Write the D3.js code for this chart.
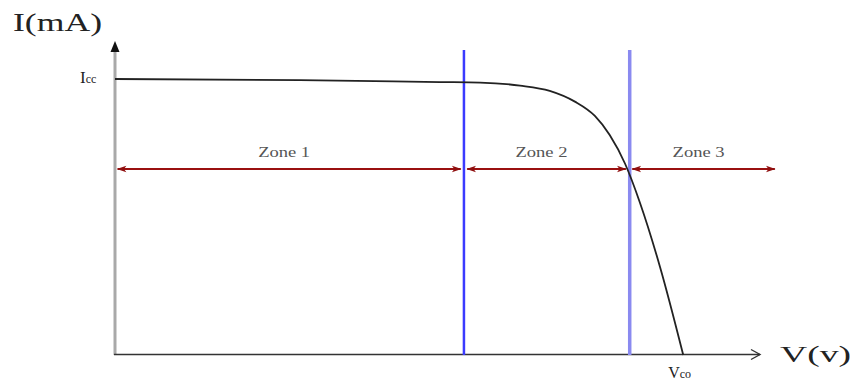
<!DOCTYPE html>
<html>
<head>
<meta charset="utf-8">
<script src="https://cdn.jsdelivr.net/npm/d3@7"></script>
<style>
  html, body { margin: 0; padding: 0; background: #fff; }
  svg { display: block; }
</style>
</head>
<body>
<svg id="chart" width="853" height="381"></svg>
<script>
// I–V characteristic of a photovoltaic cell (arbitrary units, Icc = 100)
const voltage = [0, 28.7, 50.4, 56.6, 62.8, 67.4, 71.3, 74.4, 76.7, 79.1, 81.4, 84.5, 88.1];
const current = [100, 99.6, 98.9, 98.7, 97.6, 95.7, 91.8, 86.6, 79.7, 69.2, 55.1, 31.9, 0];

// Operating zones: boundaries along V and the level of the zone arrows
const zoneNames = ["Zone 1", "Zone 2", "Zone 3"];
const zoneBounds = [0, 54.1, 79.8, 102.3];
const zoneLevel = 67.4;
const dividers = [54.1, 79.8];

const svg = d3.select("#chart");
const x = d3.scaleLinear().domain([0, 100]).range([115, 760]);
const y = d3.scaleLinear().domain([0, 100]).range([355, 79]);

const defs = svg.append("defs");
// red arrowhead used at both ends of each zone arrow
defs.append("marker")
  .attr("id", "redHead")
  .attr("viewBox", "0 -5 12 10")
  .attr("refX", 11).attr("refY", 0)
  .attr("markerWidth", 12).attr("markerHeight", 8)
  .attr("markerUnits", "userSpaceOnUse")
  .attr("orient", "auto-start-reverse")
  .append("path")
  .attr("d", "M0,-4 L12,0 L0,4 L3,0 Z")
  .attr("fill", "#8f0f0f");

// Y axis (grey bar with filled arrow)
svg.append("line")
  .attr("x1", x(0)).attr("x2", x(0))
  .attr("y1", 355).attr("y2", 50)
  .attr("stroke", "#a9a9a9").attr("stroke-width", 3);
svg.append("path")
  .attr("d", `M${x(0)},41 L${x(0) - 4.5},52 L${x(0) + 4.5},52 Z`)
  .attr("fill", "#111");

// X axis with open arrowhead
svg.append("line")
  .attr("x1", x(0) - 1).attr("x2", 760)
  .attr("y1", 354.5).attr("y2", 354.5)
  .attr("stroke", "#333").attr("stroke-width", 1.6);
svg.append("path")
  .attr("d", "M751,349.5 L760,354.5 L751,359.5")
  .attr("fill", "none").attr("stroke", "#333").attr("stroke-width", 1.4);

// Zone divider lines
svg.selectAll(".divider")
  .data(dividers)
  .join("line")
  .attr("class", "divider")
  .attr("x1", d => x(d)).attr("x2", d => x(d))
  .attr("y1", 50).attr("y2", 355)
  .attr("stroke", (d, i) => i === 0 ? "#3b3bff" : "#8a8af0")
  .attr("stroke-width", (d, i) => i === 0 ? 2.5 : 3.5);

// I–V curve
const line = d3.line()
  .x(d => x(d[0]))
  .y(d => y(d[1]))
  .curve(d3.curveMonotoneX);
svg.append("path")
  .datum(voltage.map((v, i) => [v, current[i]]))
  .attr("d", line)
  .attr("fill", "none")
  .attr("stroke", "#222")
  .attr("stroke-width", 1.8);

// Zone arrows and labels
const gaps = [[0.4, -0.5], [0.5, -0.6], [0.4, 0]];
zoneNames.forEach((name, i) => {
  const x0 = x(zoneBounds[i]) + gaps[i][0] * 6.45;
  const x1 = x(zoneBounds[i + 1]) + gaps[i][1] * 6.45;
  svg.append("line")
    .attr("x1", x0).attr("x2", x1)
    .attr("y1", y(zoneLevel)).attr("y2", y(zoneLevel))
    .attr("stroke", "#9a1010").attr("stroke-width", 2)
    .attr("marker-start", "url(#redHead)")
    .attr("marker-end", "url(#redHead)");
  svg.append("text")
    .attr("x", (x0 + x1) / 2 - 5)
    .attr("y", y(zoneLevel) - 12)
    .attr("text-anchor", "middle")
    .attr("font-family", "Liberation Serif, serif")
    .attr("font-size", 14)
    .attr("fill", "#555")
    .attr("textLength", 52).attr("lengthAdjust", "spacingAndGlyphs")
    .text(name);
});

// Axis titles
svg.append("text")
  .attr("x", 13).attr("y", 31)
  .attr("font-family", "Liberation Serif, serif")
  .attr("font-size", 26)
  .attr("fill", "#222")
  .attr("textLength", 89).attr("lengthAdjust", "spacingAndGlyphs")
  .text("I(mA)");
svg.append("text")
  .attr("x", 780).attr("y", 362)
  .attr("font-family", "Liberation Serif, serif")
  .attr("font-size", 24)
  .attr("fill", "#222")
  .attr("textLength", 71).attr("lengthAdjust", "spacingAndGlyphs")
  .text("V(v)");

// Icc and Vco markers
const icc = svg.append("text")
  .attr("x", 80).attr("y", y(100) + 4)
  .attr("font-family", "Liberation Serif, serif")
  .attr("fill", "#222");
icc.append("tspan").attr("font-size", 17).text("I");
icc.append("tspan").attr("font-size", 12).text("cc");

const vco = svg.append("text")
  .attr("x", x(voltage[voltage.length - 1]) - 15).attr("y", 378)
  .attr("font-family", "Liberation Serif, serif")
  .attr("fill", "#222");
vco.append("tspan").attr("font-size", 16).text("V");
vco.append("tspan").attr("font-size", 12).text("co");
</script>
</body>
</html>
